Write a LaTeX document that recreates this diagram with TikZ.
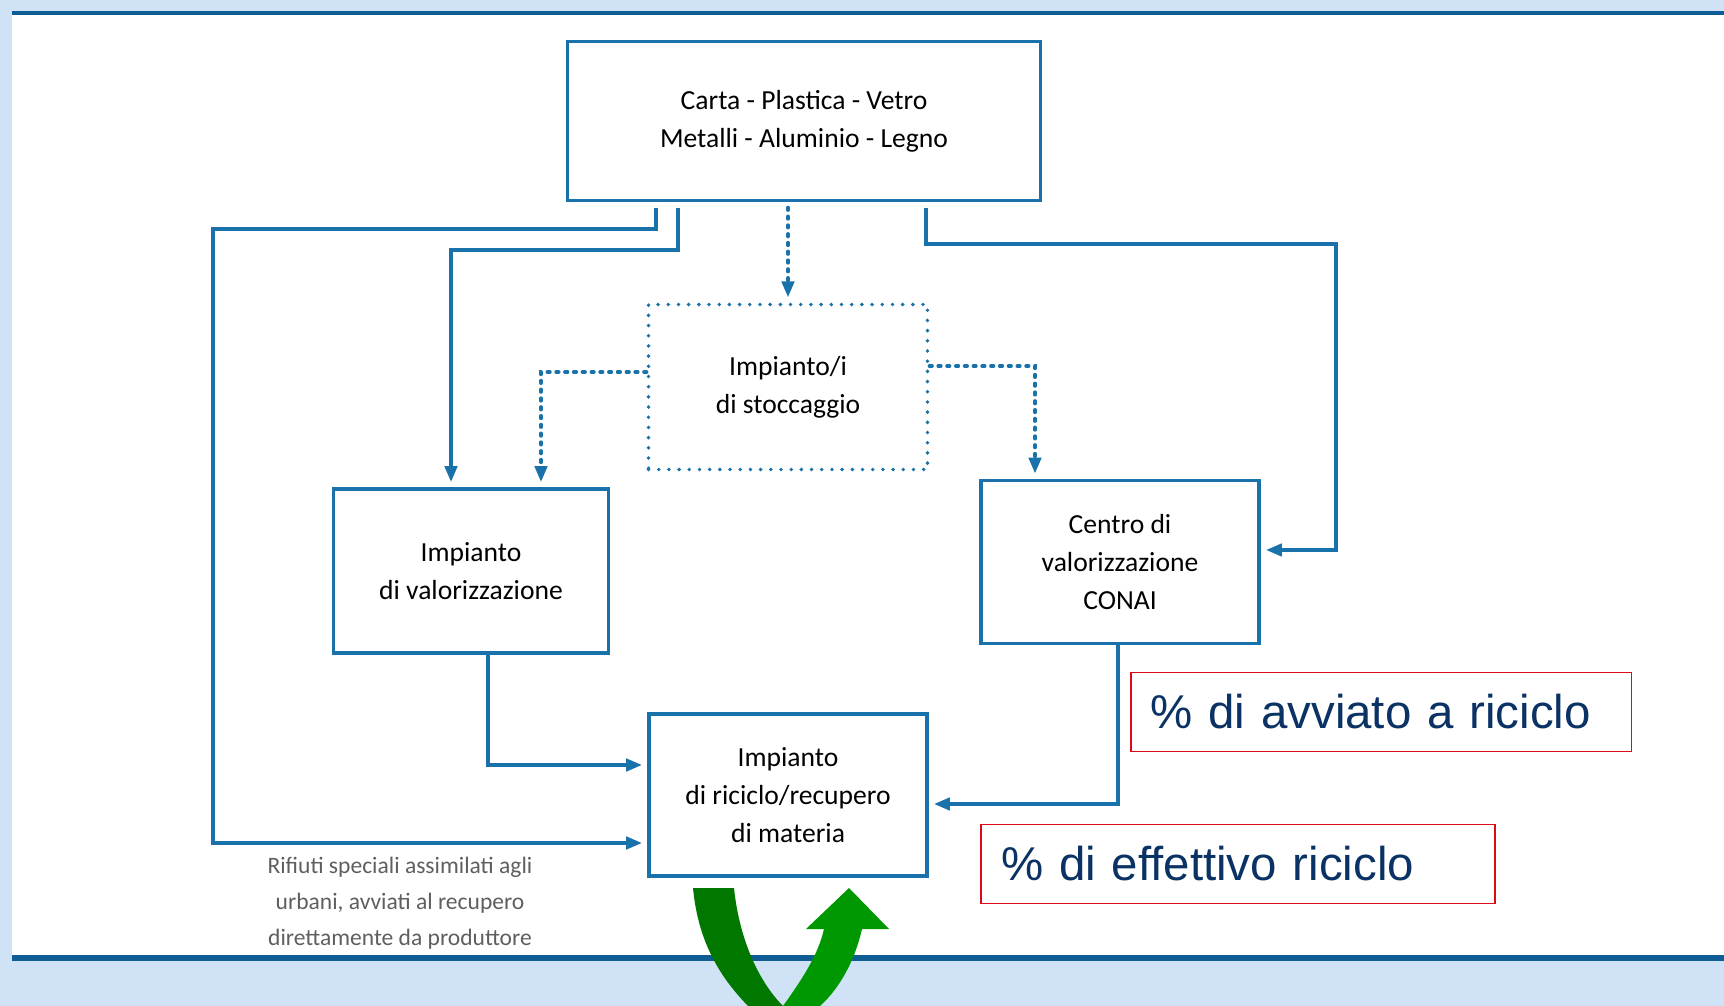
\documentclass[tikz,border=0pt]{standalone}
\usepackage{fontspec}
\newfontfamily\boxfont{Carlito}
\newfontfamily\tagfont{Liberation Sans}
\usetikzlibrary{arrows.meta,calc}
\definecolor{linkblue}{RGB}{25,114,170}
\definecolor{barblue}{RGB}{16,92,148}
\definecolor{pageblue}{RGB}{208,226,245}
\definecolor{tagblue}{RGB}{10,50,100}
\definecolor{tagred}{RGB}{220,10,20}
\definecolor{notegray}{RGB}{95,95,95}
\definecolor{darkarc}{RGB}{0,120,0}
\definecolor{lightarc}{RGB}{0,152,0}

\begin{document}
\begin{tikzpicture}[x=0.02cm,y=-0.02cm,
  box/.style={draw=linkblue,line width=2pt,align=center,font=\boxfont\fontsize{15.7}{21.5}\selectfont},
  dotbox/.style={box,line cap=round,dash pattern=on 0pt off 5.8pt,line width=2.2pt},
  link/.style={draw=linkblue,line width=2pt,-{Triangle[length=9pt,width=7pt]},shorten >=3pt},
  dotlink/.style={link,line cap=round,dash pattern=on 1.5pt off 3.5pt},
  note/.style={align=center,text=notegray,font=\boxfont\fontsize{13.4}{20.4}\selectfont},
  tag/.style={draw=tagred,line width=1.1pt,inner xsep=0.4cm,minimum height=1.58cm,align=left,text=tagblue,font=\tagfont\fontsize{27}{32}\selectfont},
  bar/.style={draw=barblue}]
\useasboundingbox (0,0) rectangle (1724,1006);

% page
\fill[pageblue] (0,0) rectangle (1724,1006);
\fill[white] (12,15) rectangle (1724,956);
\path[bar,line width=2.8pt] (12,13) -- (1724,13);
\path[bar,line width=3.4pt] (12,958) -- (1724,958);

\node[box,minimum width=9.46cm,minimum height=3.18cm] (mats) at (804,121) {Carta - Plastica - Vetro\\Metalli - Aluminio - Legno};
\node[dotbox,minimum width=5.58cm,minimum height=3.3cm] (stock) at (788,387) {Impianto/i\\di stoccaggio};
\node[box,minimum width=5.5cm,minimum height=3.28cm] (valor) at (471,571) {Impianto\\di valorizzazione};
\node[box,minimum width=5.56cm,minimum height=3.26cm] (conai) at (1120,562) {Centro di\\valorizzazione\\CONAI};
\node[box,minimum width=5.56cm,minimum height=3.24cm] (ricic) at (788,795) {Impianto\\di riciclo/recupero\\di materia};
\node[note] (note) at (400,903) {Rifiuti speciali assimilati agli\\urbani, avviati al recupero\\direttamente da produttore};

\node[tag,text width=9.22cm] (avv) at (1381,712) {\% di avviato a riciclo};
\node[tag,text width=9.48cm] (eff) at (1238,864) {\% di effettivo riciclo};

\coordinate (leftrail) at (213,229);
\coordinate (midrail) at (451,250);
\coordinate (rightrail) at (1336,244);

\path[link,shorten <=3pt] ($(mats.south)+(-148,0)$) |- (leftrail) |- ($(ricic.west)+(0,48)$);
\path[link,shorten <=3pt] ($(mats.south)+(-126,0)$) |- (midrail) -- ($(valor.north)+(-20,0)$);
\path[dotlink,shorten <=3pt] (mats.south -| stock.north) -- (stock.north);
\path[dotlink] ($(stock.west)+(0,-15)$) -| ($(valor.north)+(70,0)$);
\path[dotlink] ($(stock.east)+(0,-21)$) -| ($(conai.north)+(-85,0)$);
\path[link,shorten <=3pt] ($(mats.south)+(122,0)$) |- (rightrail) |- ($(conai.east)+(0,-12)$);
\path[link] ($(valor.south)+(17,0)$) |- ($(ricic.west)+(0,-30)$);
\path[link] ($(conai.south)+(-2,0)$) |- ($(ricic.east)+(0,9)$);

% green loop
\fill[darkarc] (693,888) -- (734,888) .. controls (740,945) and (762,985) .. (783,1006)
  -- (748,1006) .. controls (718,975) and (698,940) .. cycle;
\fill[lightarc] (783,1006) .. controls (803,978) and (818,955) .. (824,929) -- (806,929)
  -- (849,888) -- (889,929) -- (862,929) .. controls (855,960) and (840,988) .. (820,1006) -- cycle;
\end{tikzpicture}
\end{document}
